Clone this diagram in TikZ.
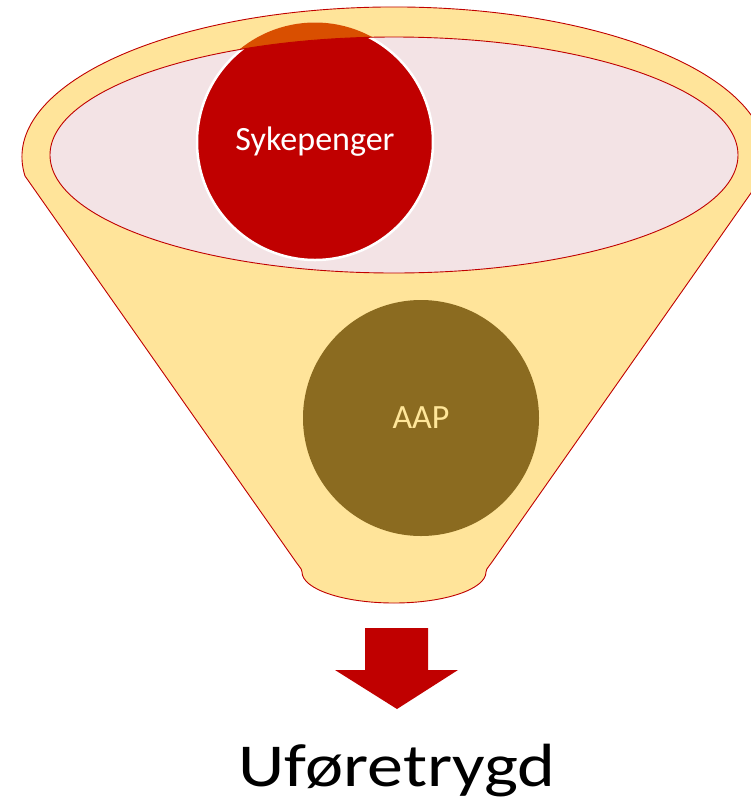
\documentclass[tikz,border=0pt]{standalone}
\usepackage{fontspec}
\setmainfont{Carlito}
\usepackage{tikz}

\definecolor{funnelyellow}{HTML}{FFE49A}
\definecolor{rimred}{HTML}{C00000}
\definecolor{bowlpink}{HTML}{F3E3E5}
\definecolor{overlaporange}{HTML}{D94F00}
\definecolor{aapbrown}{HTML}{8B6B20}
\definecolor{aaptext}{HTML}{FFE699}

\begin{document}
\begin{tikzpicture}[x = 1pt, y = -1pt,
  rim/.style = {draw = rimred, line width = 0.9pt},
  ball/.style = {circle, inner sep = 0pt, minimum size = 236pt, font = \fontsize{34}{40}\selectfont}]
\useasboundingbox (0, 0) rectangle (751, 807);
\path [rim, fill = funnelyellow] (25, 176) arc [start angle = 172.7, end angle = 367.3, x radius = 372, y radius = 150]
  -- (492, 562) .. controls (486, 570) .. (486, 572) arc [start angle = 0, end angle = 180, x radius = 92, y radius = 31]
  .. controls (302, 570) .. (296, 562) -- cycle;
\path [rim, fill = bowlpink] (394, 155) ellipse [x radius = 344, y radius = 118];
\node [ball, fill = rimred, draw = white, line width = 2.5pt, text = white] (syk) at (315, 142) {Sykepenger};
\begin{scope}
\clip (315, 142) circle [radius = 119.5];
\fill [overlaporange, even odd rule] (25, 176) arc [start angle = 172.7, end angle = 367.3, x radius = 372, y radius = 150]
  -- (486, 570) -- (302, 570) -- cycle (394, 155) ellipse [x radius = 344, y radius = 118];
\draw [rim] (394, 155) ellipse [x radius = 344, y radius = 118];
\end{scope}
\node [ball, fill = aapbrown, text = aaptext] (aap) at (421, 418) {AAP};
\fill [rimred] (365, 628) -- (428, 628) -- (428, 670) -- (458, 670) -- (397, 709) -- (335, 670) -- (365, 670) -- cycle;
\node [anchor = base, inner sep = 0pt, xscale = 1.18, font = \fontsize{61}{66}\selectfont] (ufor) at (397, 786) {Uføretrygd};
\end{tikzpicture}
\end{document}
